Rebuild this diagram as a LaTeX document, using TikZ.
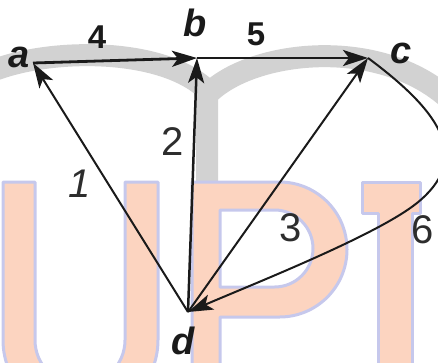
\documentclass[tikz,border=0pt]{standalone}
\usepackage{fontspec}
\setmainfont{Liberation Sans}
\usetikzlibrary{arrows.meta}
\definecolor{wmgray}{RGB}{210,210,210}
\definecolor{wmpeach}{RGB}{252,212,192}
\definecolor{wmlav}{RGB}{198,200,236}
\definecolor{ink}{RGB}{26,26,26}
\definecolor{digitink}{RGB}{45,45,45}
\begin{document}
\begin{tikzpicture}[x=1pt,y=-1pt,
  edge/.style={draw=ink, line width=2pt, -{Stealth[length=25pt,width=16pt,inset=6pt]}},
  thickedge/.style={edge, line width=2.8pt},
  vlabel/.style={text=ink, font=\fontsize{38}{40}\selectfont\bfseries\itshape, inner sep=0pt},
  wlabel/.style={text=digitink, font=\fontsize{40}{42}\selectfont, inner sep=0pt},
  swlabel/.style={text=ink, font=\fontsize{33}{35}\selectfont\bfseries, inner sep=0pt},
  wmletter/.style={fill=wmpeach, draw=wmlav, line width=3pt, line join=round, even odd rule},
  wmarch/.style={draw=wmgray, line width=22pt, line join=round}]
\useasboundingbox (0,0) rectangle (438,362);

% watermark
\draw[wmarch] (-15,74) .. controls (40,48) and (160,45) .. (207,90) -- (207,182);
\draw[wmarch] (207,95) .. controls (250,50) and (380,35) .. (450,100);
\path[wmletter] (3,182) -- (3,340) arc[start angle=180, end angle=360, radius=77.5pt]
  -- (158,182) -- (125,182) -- (125,340) arc[start angle=360, end angle=180, radius=45pt]
  -- (35,182) -- cycle;
\path[wmletter] (192,182) -- (279.5,182) arc[start angle=90, end angle=-90, radius=67.5pt]
  -- (220,317) -- (220,380) -- (192,380) -- cycle
  (220,210) -- (274.5,210) arc[start angle=90, end angle=-90, radius=38.5pt]
  -- (220,287) -- cycle;
\path[wmletter] (362,182) -- (420,182) -- (420,213) -- (412,213) -- (412,380)
  -- (378,380) -- (378,213) -- (362,213) -- cycle;

% vertices
\coordinate (a) at (33,63);
\coordinate (b) at (197,58);
\coordinate (c) at (368,58);
\coordinate (d) at (188,312);
\coordinate (k) at (417,203);

% edges
\draw[thickedge] (a) -- (b);
\draw[thickedge] (b) -- (c);
\draw[edge] (d) -- (a);
\draw[edge, line width=2.5pt] (d) -- (b);
\draw[edge] (d) -- (c);
\draw[edge] (c) .. controls (445,115) and (470,160) .. (k)
  .. controls (377,235) and (258,282) .. (d);

% vertex labels
\node[vlabel] (la) at (19,57) {a};
\node[vlabel] (lb) at (195,23) {b};
\node[vlabel] (lc) at (401,53) {c};
\node[vlabel] (ld) at (183,341) {d};

% weights
\node[swlabel] (w4) at (97,37) {4};
\node[swlabel] (w5) at (256,34) {5};
\node[wlabel, font=\fontsize{40}{42}\selectfont\itshape] (w1) at (80,184) {1};
\node[wlabel] (w2) at (173,142) {2};
\node[wlabel] (w3) at (291,228) {3};
\node[wlabel] (w6) at (423,230) {6};
\end{tikzpicture}
\end{document}
